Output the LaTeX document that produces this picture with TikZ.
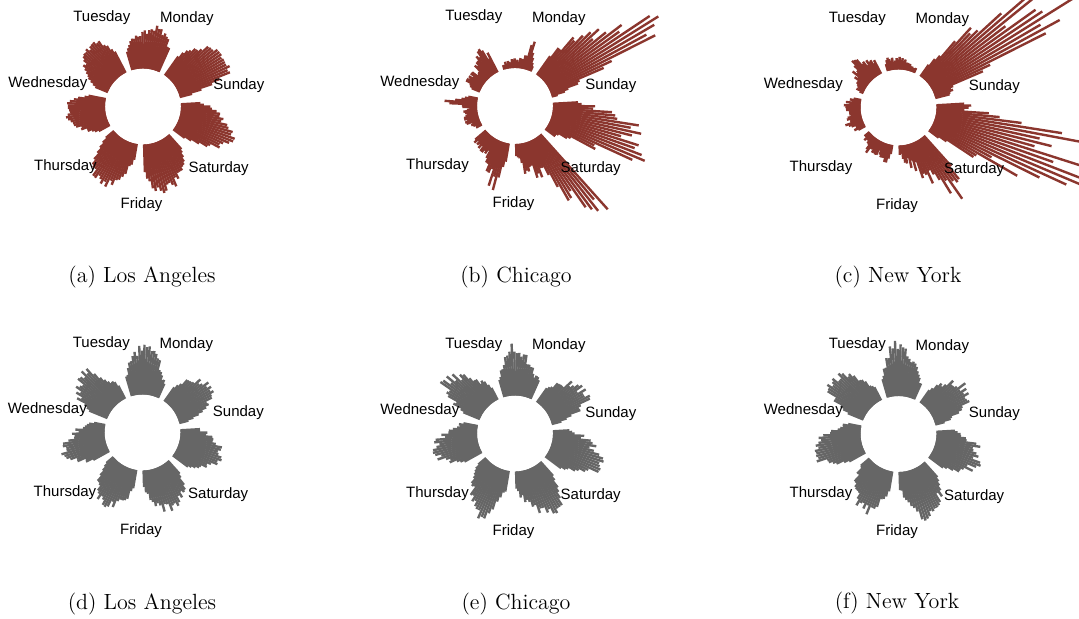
\documentclass[tikz,border=0pt]{standalone}
\usepackage{fontspec}
\newfontfamily\labfont{Liberation Sans}
\definecolor{barred}{RGB}{139,54,46}
\definecolor{bargray}{RGB}{102,102,102}
\tikzset{
  redbar/.style={draw=barred,line width=1.2pt},
  graybar/.style={draw=bargray,line width=1.2pt},
  daylab/.style={font=\labfont\fontsize{7.5}{9}\selectfont,inner sep=0pt},
  caption/.style={font=\fontsize{11}{13}\selectfont,inner sep=0pt}
}
% control lengths every 4 hours, days Sunday..Saturday
\def\ctrlLA{{12,55,58,54,47,35,20, 25,38,41,37,34,28,15, 22,42,40,40,33,22,10, 18,36,38,37,30,22,10, 10,35,45,50,45,30,10, 30,48,48,45,38,30,15, 15,42,57,54,42,32,15}}
\def\ctrlCH{{8,40,118,100,80,45,15, 5,26,10,8,8,7,4, 18,28,18,13,15,14,8, 10,30,10,14,15,8,5, 14,15,18,18,35,50,12, 12,25,30,32,60,95,90, 10,25,95,80,85,40,15}}
\def\ctrlNY{{12,20,130,140,100,40,12, 4,5,8,12,8,12,5, 12,15,25,20,12,8,5, 8,15,12,10,15,12,8, 6,10,14,12,12,18,8, 10,15,25,35,55,65,30, 12,80,145,145,120,35,30}}
\def\ctrlLAg{{10,28,40,42,40,28,12, 15,25,40,48,42,32,14, 15,25,42,44,42,32,14, 12,24,32,40,45,32,14, 10,25,38,42,42,32,14, 18,35,42,42,38,30,14, 18,32,40,45,40,28,14}}
\def\ctrlCHg{{10,35,45,40,35,26,12, 20,25,35,45,48,28,14, 15,25,40,45,47,32,14, 15,25,35,45,42,30,14, 10,25,35,45,55,36,14, 18,30,40,45,50,36,14, 18,40,54,50,40,28,14}}
\def\ctrlNYg{{10,30,42,42,38,26,12, 16,25,38,48,52,30,14, 15,25,40,45,50,34,14, 15,25,38,45,48,32,14, 10,25,35,42,45,32,14, 18,30,48,45,42,32,14, 18,35,45,45,40,28,14}}
\newcommand{\hourbars}[5]{%
  \begin{scope}[shift={(#1)}]
  \pgfmathsetseed{#5}
  \foreach \dd in {0,...,6}{
    \foreach \hh in {0,...,23}{
      \pgfmathtruncatemacro{\idx}{7*\dd+floor(\hh/4)}
      \pgfmathsetmacro{\ff}{mod(\hh,4)/4}
      \pgfmathsetmacro{\ca}{#2[\idx]}
      \pgfmathsetmacro{\cb}{#2[\idx+1]}
      \pgfmathsetmacro{\rr}{38+max(1,(\ca+\ff*(\cb-\ca))*(1+#4*rand))}
      \pgfmathsetmacro{\ang}{14.5+51.43*\dd+1.75*\hh}
      \draw[#3] (\ang:38) -- (\ang:\rr);
    }
  }
  \foreach \dname [count=\dd from 0] in {Sunday,Monday,Tuesday,Wednesday,Thursday,Friday,Saturday}
    \node[daylab] (#1-\dname) at ({12+51.43*\dd}:98) {\dname};
  \end{scope}
}
\begin{document}
\begin{tikzpicture}[x=0.5pt,y=0.5pt]
\useasboundingbox (0,0) rectangle (1079,-619);
\coordinate (cA) at (143,-106.5);
\coordinate (cB) at (515,-106);
\coordinate (cC) at (898.5,-107.5);
\coordinate (cD) at (142.5,-432.5);
\coordinate (cE) at (515,-433.5);
\coordinate (cF) at (898.5,-434);
\hourbars{cA}{\ctrlLA}{redbar}{0.08}{11}
\hourbars{cB}{\ctrlCH}{redbar}{0.25}{23}
\hourbars{cC}{\ctrlNY}{redbar}{0.3}{37}
\hourbars{cD}{\ctrlLAg}{graybar}{0.12}{41}
\hourbars{cE}{\ctrlCHg}{graybar}{0.12}{53}
\hourbars{cF}{\ctrlNYg}{graybar}{0.12}{67}
\node[caption] (capA) at (142,-277) {(a) Los Angeles};
\node[caption] (capB) at (516,-277) {(b) Chicago};
\node[caption] (capC) at (898,-277) {(c) New York};
\node[caption] (capD) at (142,-604) {(d) Los Angeles};
\node[caption] (capE) at (516,-604) {(e) Chicago};
\node[caption] (capF) at (897,-603) {(f) New York};
\end{tikzpicture}
\end{document}
